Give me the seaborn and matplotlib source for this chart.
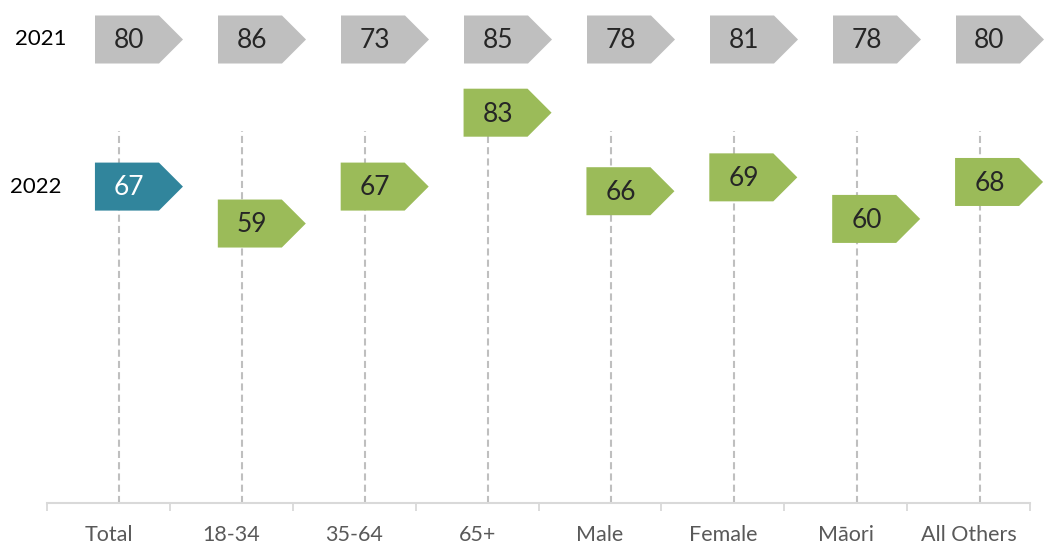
import numpy as np
import pandas as pd
import seaborn as sns
import matplotlib.pyplot as plt
from matplotlib.path import Path

categories = ['Total', '18-34', '35-64', '65+', 'Male', 'Female', 'Māori', 'All Others']
values_2021 = [80, 86, 73, 85, 78, 81, 78, 80]
values_2022 = [67, 59, 67, 83, 66, 69, 60, 68]
highlight = ['Total']

sns.set_style('white')
plt.rcParams['font.family'] = ['Lato', 'DejaVu Sans']

ROW_2021 = 99          # y level where the 2021 row sits
Y_MIN, Y_MAX = -1.4, 107.4

# arrow shaped marker, in pixels relative to the anchor (category centre, value)
arrow = Path([(-13.5, -24), (50.5, -24), (74.5, 0), (50.5, 24), (-13.5, 24), (-13.5, -24)], closed=True)
S = (2 * 74.5 * 72 / 100) ** 2   # marker area so the arrow is 88px wide

df = pd.DataFrame({'category': categories, 'x': np.arange(len(categories)),
                   'v2021': values_2021, 'v2022': values_2022})
df['row'] = ROW_2021
df['group'] = np.where(df['category'].isin(highlight), 'highlight', 'other')

fig = plt.figure(figsize=(10.53, 5.48), dpi=100)
ax = fig.add_axes([47 / 1053, 45.5 / 548, 983 / 1053, 502.5 / 548])

# dashed drop lines
ax.vlines(df['x'] + 0.09, Y_MIN, 79, colors='#bfbfbf', linestyles=(0, (3.4, 2)), lw=1.5, zorder=1)

sns.scatterplot(data=df, x='x', y='row', marker=arrow, s=S, color='#bfbfbf',
                linewidth=0, ax=ax, legend=False, zorder=3, clip_on=False)
sns.scatterplot(data=df, x='x', y='v2022', hue='group', marker=arrow, s=S,
                palette={'highlight': '#31859c', 'other': '#9bbb59'},
                linewidth=0, ax=ax, legend=False, zorder=3, clip_on=False)

for i, r in df.iterrows():
    ax.annotate(str(r['v2021']), (r['x'], ROW_2021), xytext=(15, -1), textcoords='offset points',
                ha='center', va='center', fontsize=19, color='#262626', zorder=4)
    col = 'white' if r['group'] == 'highlight' else '#262626'
    ax.annotate(str(r['v2022']), (r['x'], r['v2022']), xytext=(15, -1), textcoords='offset points',
                ha='center', va='center', fontsize=19, color=col, zorder=4)

ax.text(-0.548, ROW_2021, '2021', ha='center', va='center', fontsize=16, color='black')
ax.text(-0.589, values_2022[0], '2022', ha='center', va='center', fontsize=16, color='black')

ax.set_xlim(-0.5, len(categories) - 0.5)
ax.set_ylim(Y_MIN, Y_MAX)
ax.set_xticks(df['x'])
ax.set_xticklabels(categories, fontsize=15.5, color='#595959')
ax.set_xticks(np.arange(-0.5, len(categories), 1), minor=True)
ax.tick_params(axis='x', which='major', length=0, pad=16)
ax.tick_params(axis='x', which='minor', length=6, width=1.3, color='#d9d9d9', direction='out', bottom=True)
ax.set_yticks([])
ax.set_xlabel('')
ax.set_ylabel('')
sns.despine(ax=ax, left=True, top=True, right=True)
ax.spines['bottom'].set_color('#d9d9d9')
ax.spines['bottom'].set_linewidth(1.5)

fig.savefig('out.png', dpi=100)
